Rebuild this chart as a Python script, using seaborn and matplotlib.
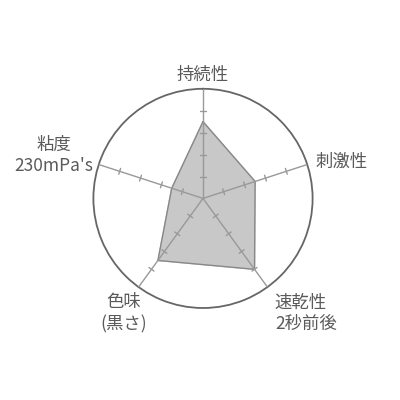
import numpy as np
import pandas as pd
import matplotlib
matplotlib.use("Agg")
import matplotlib.pyplot as plt
import seaborn as sns

# ==============================
# Data
# ==============================

CATEGORIES = ["持続性", "刺激性", "速乾性\n2秒前後", "色味\n(黒さ)", "粘度\n230mPa's"]
VALUES = [3.5, 2.5, 4.0, 3.5, 1.5]
MAX_LEVEL = 5
TICK_LEVELS = [1, 2, 3, 4]

# label placement: (angle in degrees, radius, ha, va)
LABEL_POS = [
    (0, 5.62, "center", "center"),
    (72, 5.4, "left", "center"),
    (143, 5.45, "left", "top"),
    (220, 5.65, "center", "top"),
    (286, 7.1, "center", "center"),
]

TEXT_COLOR = "#5a5a5a"
SPOKE_COLOR = "#999999"
FILL_COLOR = "#c8c8c8"
EDGE_COLOR = "#888888"
CIRCLE_COLOR = "#666666"


def main():
    sns.set_theme(style="white")
    plt.rcParams["font.family"] = ["Noto Sans CJK JP", "DejaVu Sans"]

    n = len(CATEGORIES)
    angles = np.linspace(0, 2 * np.pi, n, endpoint=False)

    fig = plt.figure(figsize=(4, 4), dpi=100)
    cx, cy, rad = 0.5075, 0.504, 0.274
    ax = fig.add_axes([cx - rad, cy - rad, 2 * rad, 2 * rad], projection="polar")
    ax.set_theta_offset(np.pi / 2)
    ax.set_theta_direction(-1)
    ax.set_ylim(0, MAX_LEVEL)
    ax.grid(False)
    ax.set_xticks([])
    ax.set_yticks([])
    ax.spines["polar"].set_color(CIRCLE_COLOR)
    ax.spines["polar"].set_linewidth(1.3)

    # spokes and small tick marks
    for a in angles:
        ax.plot([a, a], [0, MAX_LEVEL], color=SPOKE_COLOR, lw=1.0, zorder=3)
        for lvl in TICK_LEVELS:
            d = 0.14 / lvl
            ax.plot([a - d, a + d], [lvl, lvl], color=SPOKE_COLOR, lw=1.0, zorder=3)

    # data polygon
    df = pd.DataFrame({
        "theta": np.append(angles, angles[0]),
        "value": VALUES + [VALUES[0]],
    })
    ax.fill(df["theta"], df["value"], color=FILL_COLOR, zorder=1)
    sns.lineplot(data=df, x="theta", y="value", ax=ax, sort=False,
                 estimator=None, color=EDGE_COLOR, lw=1.0, zorder=2)
    ax.set_xlabel("")
    ax.set_ylabel("")
    ax.set_ylim(0, MAX_LEVEL)

    for label, (deg, r, ha, va) in zip(CATEGORIES, LABEL_POS):
        ax.text(np.deg2rad(deg), r, label, ha=ha, va=va, fontsize=12.5,
                color=TEXT_COLOR, linespacing=1.25, clip_on=False)

    fig.savefig("out.png", dpi=100, facecolor="white")
    plt.close(fig)


if __name__ == "__main__":
    main()
